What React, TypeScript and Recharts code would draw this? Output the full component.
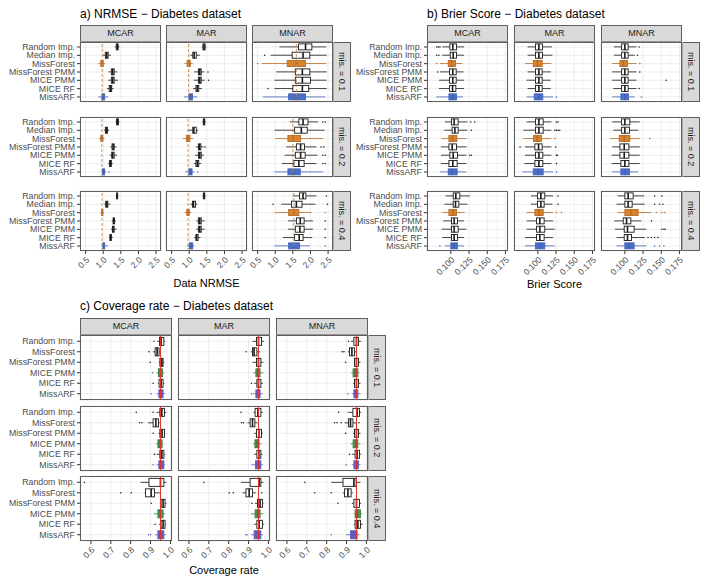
import React from 'react';
import { ComposedChart, Bar, XAxis, YAxis, CartesianGrid, ReferenceLine } from 'recharts';

type Box = [number, number, number, number, number, number[]?];

const methodsA = ['Random Imp.', 'Median Imp.', 'MissForest', 'MissForest PMM', 'MICE PMM', 'MICE RF', 'MissARF'];
const methodsC = ['Random Imp.', 'MissForest', 'MissForest PMM', 'MICE PMM', 'MICE RF', 'MissARF'];
const mechanisms = ['MCAR', 'MAR', 'MNAR'];
const missLabels = ['mis. = 0.1', 'mis. = 0.2', 'mis. = 0.4'];

const nrmseTicks = [0.5, 1, 1.5, 2, 2.5];
const nrmseMinor = [0.75, 1.25, 1.75, 2.25];
const brierTicks = [0.1, 0.125, 0.15, 0.175];
const brierMinor = [0.0875, 0.1125, 0.1375, 0.1625];
const coverageTicks = [0.6, 0.7, 0.8, 0.9, 1.0];
const coverageMinor = [0.55, 0.65, 0.75, 0.85, 0.95];
const nominalCoverage = 0.95;

// [lower whisker, q1, median, q3, upper whisker, outliers]
const nrmseMcar1: Box[] = [
  [1.33, 1.37, 1.4, 1.42, 1.46], [0.98, 1.06, 1.1, 1.14, 1.22], [0.86, 0.93, 0.97, 1.0, 1.05],
  [1.15, 1.23, 1.27, 1.31, 1.4], [1.14, 1.23, 1.27, 1.31, 1.42], [1.11, 1.17, 1.21, 1.24, 1.29],
  [0.86, 0.96, 1.0, 1.04, 1.14],
];
const nrmseMar1: Box[] = [
  [1.36, 1.39, 1.42, 1.45, 1.48], [1.03, 1.1, 1.14, 1.2, 1.3], [0.86, 0.94, 0.98, 1.03, 1.1],
  [1.14, 1.26, 1.3, 1.34, 1.43, [1.53]], [1.13, 1.26, 1.3, 1.34, 1.44, [1.55]], [1.11, 1.19, 1.23, 1.27, 1.36],
  [0.85, 0.99, 1.04, 1.09, 1.23],
];
const nrmseMnar1: Box[] = [
  [1.12, 1.66, 1.86, 2.04, 2.45], [0.87, 1.48, 1.79, 1.98, 2.46, [0.7]], [0.62, 1.34, 1.6, 1.86, 2.45, [0.5]],
  [1.03, 1.57, 1.77, 1.98, 2.46], [0.98, 1.57, 1.77, 2.0, 2.46], [0.98, 1.5, 1.77, 1.95, 2.46, [0.79]],
  [0.65, 1.38, 1.6, 1.86, 2.42],
];
const nrmseMcar2: Box[] = [
  [1.35, 1.38, 1.4, 1.43, 1.46], [1.02, 1.06, 1.09, 1.12, 1.17], [0.88, 0.93, 0.96, 0.99, 1.03],
  [1.2, 1.25, 1.28, 1.31, 1.38], [1.18, 1.24, 1.27, 1.31, 1.39], [1.14, 1.18, 1.2, 1.23, 1.27],
  [0.95, 0.98, 1.01, 1.04, 1.08, [1.16]],
];
const nrmseMar2: Box[] = [
  [1.37, 1.4, 1.42, 1.44, 1.47], [0.96, 1.1, 1.13, 1.2, 1.25], [0.82, 0.92, 0.965, 1.02, 1.11],
  [1.19, 1.26, 1.29, 1.33, 1.4, [1.45]], [1.16, 1.26, 1.3, 1.34, 1.42], [1.13, 1.19, 1.23, 1.27, 1.34],
  [0.88, 0.99, 1.03, 1.08, 1.15, [1.24]],
];
const nrmseMnar2: Box[] = [
  [1.41, 1.67, 1.79, 1.93, 2.21, [2.35, 2.42]], [0.98, 1.55, 1.74, 1.91, 2.4], [1.0, 1.36, 1.5, 1.72, 2.36],
  [1.31, 1.6, 1.72, 1.83, 2.17, [2.3, 2.38]], [1.27, 1.57, 1.72, 1.85, 2.2, [2.35, 2.42]],
  [1.19, 1.53, 1.67, 1.82, 2.17, [2.35, 2.42]], [0.98, 1.36, 1.5, 1.71, 2.36],
];
const nrmseMcar4: Box[] = [
  [1.36, 1.38, 1.39, 1.41, 1.43], [1.03, 1.07, 1.1, 1.13, 1.2], [0.92, 0.95, 0.965, 0.99, 1.02],
  [1.24, 1.28, 1.3, 1.32, 1.36], [1.22, 1.26, 1.28, 1.31, 1.38], [1.16, 1.19, 1.21, 1.23, 1.27],
  [0.96, 0.99, 1.01, 1.04, 1.14],
];
const nrmseMar4: Box[] = [
  [1.38, 1.4, 1.42, 1.44, 1.46], [1.03, 1.09, 1.12, 1.18, 1.23], [0.87, 0.93, 0.965, 1.0, 1.06],
  [1.2, 1.26, 1.3, 1.34, 1.44], [1.2, 1.26, 1.3, 1.34, 1.44], [1.14, 1.19, 1.21, 1.25, 1.32],
  [0.93, 1.0, 1.06, 1.1, 1.14],
];
const nrmseMnar4: Box[] = [
  [1.5, 1.69, 1.79, 1.87, 2.17, [2.45]], [1.17, 1.46, 1.6, 1.76, 2.14, [0.94, 2.48]],
  [0.98, 1.38, 1.53, 1.67, 2.03, [2.42]], [1.36, 1.6, 1.71, 1.82, 2.07, [2.42]],
  [1.36, 1.57, 1.7, 1.82, 2.07, [2.42]], [1.22, 1.55, 1.68, 1.79, 2.05, [2.42]],
  [0.98, 1.38, 1.54, 1.69, 1.98, [2.42]],
];

const brierMcar1: Box[] = [
  [0.0882, 0.0986, 0.1027, 0.1077, 0.1182, [0.0805, 0.0827, 0.085]],
  [0.0882, 0.0991, 0.1032, 0.1077, 0.1182, [0.0805, 0.0836]],
  [0.085, 0.0964, 0.1009, 0.1064, 0.1159, [0.0805]],
  [0.085, 0.0982, 0.1027, 0.1073, 0.1173, [0.0818]],
  [0.0836, 0.0982, 0.1027, 0.1073, 0.1182],
  [0.0836, 0.0982, 0.1023, 0.1068, 0.1182],
  [0.0827, 0.0973, 0.1023, 0.1077, 0.1168, [0.0814]],
];
const brierMar1: Box[] = [
  [0.0859, 0.0968, 0.1014, 0.1064, 0.1195],
  [0.0859, 0.0968, 0.1014, 0.1064, 0.12],
  [0.0823, 0.0936, 0.0995, 0.1059, 0.1186],
  [0.0859, 0.0968, 0.1014, 0.1059, 0.1177],
  [0.0845, 0.0968, 0.1014, 0.1059, 0.1177],
  [0.0859, 0.0968, 0.1014, 0.1059, 0.1177],
  [0.0845, 0.095, 0.1014, 0.1068, 0.1209, [0.1255]],
];
const brierMnar1: Box[] = [
  [0.085, 0.0955, 0.1, 0.1045, 0.1159, [0.1195]],
  [0.085, 0.0955, 0.1, 0.1045, 0.1136, [0.1173]],
  [0.0827, 0.0932, 0.0982, 0.1036, 0.1159, [0.1205]],
  [0.0827, 0.0955, 0.1, 0.1045, 0.1159, [0.1205]],
  [0.0827, 0.0955, 0.1, 0.1045, 0.1159, [0.1568]],
  [0.0841, 0.0955, 0.1, 0.1045, 0.1159, [0.1195]],
  [0.0827, 0.0945, 0.1, 0.105, 0.1136, [0.1227]],
];
const brierMcar2: Box[] = [
  [0.0918, 0.1009, 0.1045, 0.11, 0.1227, [0.1273, 0.1327]],
  [0.0909, 0.1018, 0.1055, 0.11, 0.1227, [0.1282]],
  [0.0873, 0.0973, 0.1023, 0.1082, 0.1214],
  [0.0864, 0.0973, 0.1018, 0.1077, 0.1214],
  [0.0864, 0.0986, 0.1032, 0.1091, 0.1214, [0.1259, 0.1282]],
  [0.0864, 0.0973, 0.1027, 0.1086, 0.1214],
  [0.085, 0.0964, 0.1018, 0.1086, 0.1214],
];
const brierMar2: Box[] = [
  [0.0845, 0.0968, 0.1014, 0.1073, 0.1186, [0.1255, 0.1277]],
  [0.08, 0.0968, 0.1014, 0.1073, 0.1186, [0.1232, 0.1255, 0.1277, 0.13]],
  [0.08, 0.0941, 0.0991, 0.105, 0.1186, [0.1232]],
  [0.0823, 0.0959, 0.1009, 0.1059, 0.1186, [0.0755, 0.1245]],
  [0.0823, 0.0968, 0.1014, 0.1068, 0.1186, [0.1255, 0.1268]],
  [0.0814, 0.0959, 0.1014, 0.1068, 0.1186, [0.1255]],
  [0.0786, 0.0936, 0.1005, 0.1073, 0.1209, [0.1255]],
];
const brierMnar2: Box[] = [
  [0.0827, 0.0955, 0.1, 0.1068, 0.1205],
  [0.0841, 0.0955, 0.1, 0.1064, 0.1182],
  [0.0795, 0.0923, 0.0991, 0.1068, 0.1205, [0.1341]],
  [0.0827, 0.0932, 0.0991, 0.1055, 0.1205],
  [0.0818, 0.0932, 0.0991, 0.1055, 0.1205],
  [0.0818, 0.0945, 0.1, 0.1055, 0.1205],
  [0.0827, 0.0945, 0.1, 0.1064, 0.1182],
];
const brierMcar4: Box[] = [
  [0.0927, 0.1032, 0.1068, 0.1123, 0.1259],
  [0.0909, 0.1032, 0.1064, 0.1109, 0.1227],
  [0.0882, 0.0973, 0.1032, 0.1077, 0.1191],
  [0.0895, 0.1009, 0.1045, 0.1091, 0.1182],
  [0.0873, 0.1009, 0.1045, 0.11, 0.1214],
  [0.0882, 0.1009, 0.1045, 0.1091, 0.1182],
  [0.0918, 0.1, 0.1045, 0.1091, 0.1182, [0.085]],
];
const brierMar4: Box[] = [
  [0.0905, 0.0995, 0.1041, 0.1095, 0.1209, [0.1277]],
  [0.0905, 0.0995, 0.1041, 0.1086, 0.12, [0.1277]],
  [0.0845, 0.0959, 0.1014, 0.1073, 0.1209, [0.1255, 0.1323]],
  [0.0845, 0.0982, 0.1027, 0.1086, 0.1209],
  [0.0845, 0.0982, 0.1027, 0.1095, 0.1232],
  [0.0823, 0.0982, 0.1027, 0.1086, 0.1209],
  [0.0823, 0.0968, 0.1027, 0.1095, 0.1232],
];
const brierMnar4: Box[] = [
  [0.09, 0.1, 0.1045, 0.1114, 0.1264, [0.1409, 0.1509]],
  [0.0886, 0.1, 0.1045, 0.11, 0.1273, [0.1409, 0.1477, 0.1523]],
  [0.09, 0.1, 0.1082, 0.1182, 0.1364, [0.1432, 0.1509, 0.1545]],
  [0.0855, 0.0977, 0.1023, 0.1082, 0.1227, [0.1364]],
  [0.0864, 0.0991, 0.1036, 0.1127, 0.1295, [0.1509, 0.1536, 0.1555]],
  [0.0886, 0.0991, 0.1036, 0.1091, 0.1273, [0.1318, 0.1364, 0.1409, 0.1455]],
  [0.0886, 0.1, 0.1055, 0.1127, 0.1295, [0.1409, 0.1477, 0.1536]],
];

const covMcar1: Box[] = [
  [0.933, 0.945, 0.953, 0.967, 0.973, [0.917]], [0.912, 0.923, 0.933, 0.943, 0.953, [0.892]],
  [0.942, 0.947, 0.957, 0.963, 0.97, [0.898]], [0.93, 0.94, 0.95, 0.96, 0.97, [0.91]],
  [0.937, 0.943, 0.953, 0.963, 0.97, [0.913]], [0.93, 0.942, 0.952, 0.963, 0.973, [0.903]],
];
const covMar1: Box[] = [
  [0.92, 0.94, 0.95, 0.965, 0.978], [0.912, 0.92, 0.928, 0.942, 0.958, [0.888]],
  [0.92, 0.94, 0.95, 0.962, 0.975], [0.923, 0.937, 0.945, 0.958, 0.975],
  [0.928, 0.942, 0.95, 0.962, 0.972, [0.915]], [0.923, 0.937, 0.947, 0.958, 0.972, [0.915]],
];
const covMnar1: Box[] = [
  [0.923, 0.937, 0.95, 0.96, 0.973, [0.91]], [0.907, 0.915, 0.927, 0.94, 0.953, [0.878, 0.887]],
  [0.937, 0.94, 0.95, 0.96, 0.97, [0.895]], [0.923, 0.933, 0.943, 0.957, 0.965],
  [0.933, 0.94, 0.95, 0.96, 0.97], [0.927, 0.937, 0.947, 0.957, 0.97, [0.907]],
];
const covMcar2: Box[] = [
  [0.93, 0.947, 0.957, 0.97, 0.98, [0.913, 0.828]], [0.887, 0.913, 0.927, 0.94, 0.947, [0.845, 0.857]],
  [0.94, 0.947, 0.958, 0.97, 0.973, [0.913]], [0.928, 0.937, 0.947, 0.958, 0.963],
  [0.93, 0.947, 0.957, 0.967, 0.973, [0.92]], [0.93, 0.942, 0.953, 0.967, 0.973, [0.913]],
];
const covMar2: Box[] = [
  [0.925, 0.933, 0.947, 0.962, 0.972, [0.862]], [0.895, 0.908, 0.92, 0.932, 0.945, [0.865, 0.875]],
  [0.928, 0.94, 0.952, 0.965, 0.972], [0.923, 0.932, 0.943, 0.953, 0.965],
  [0.928, 0.942, 0.952, 0.962, 0.97], [0.915, 0.935, 0.948, 0.962, 0.972],
];
const covMnar2: Box[] = [
  [0.907, 0.932, 0.953, 0.965, 0.973, [0.86]], [0.89, 0.91, 0.92, 0.932, 0.948, [0.84, 0.852, 0.873, 0.962]],
  [0.932, 0.94, 0.95, 0.96, 0.97, [0.895]], [0.92, 0.933, 0.945, 0.957, 0.97],
  [0.927, 0.943, 0.953, 0.965, 0.973, [0.915]], [0.927, 0.937, 0.948, 0.96, 0.97, [0.898]],
];
const covMcar4: Box[] = [
  [0.85, 0.892, 0.95, 0.967, 0.98, [0.567]], [0.87, 0.875, 0.903, 0.92, 0.947, [0.75, 0.803]],
  [0.947, 0.953, 0.963, 0.973, 0.98, [0.903]], [0.917, 0.937, 0.948, 0.963, 0.973],
  [0.942, 0.953, 0.963, 0.973, 0.977, [0.923]], [0.923, 0.937, 0.953, 0.967, 0.977, [0.89, 0.9]],
];
const covMar4: Box[] = [
  [0.862, 0.908, 0.953, 0.962, 0.975, [0.675]], [0.87, 0.887, 0.903, 0.92, 0.937, [0.803, 0.823, 0.967]],
  [0.932, 0.945, 0.958, 0.97, 0.975, [0.917]], [0.912, 0.933, 0.945, 0.958, 0.975],
  [0.928, 0.942, 0.953, 0.97, 0.978], [0.912, 0.928, 0.942, 0.962, 0.972, [0.887, 0.892]],
];
const covMnar4: Box[] = [
  [0.823, 0.882, 0.937, 0.948, 0.97, [0.69]], [0.882, 0.89, 0.907, 0.923, 0.932, [0.74, 0.823]],
  [0.927, 0.937, 0.95, 0.965, 0.973, [0.857]], [0.937, 0.943, 0.957, 0.97, 0.977],
  [0.937, 0.943, 0.957, 0.97, 0.982], [0.898, 0.92, 0.937, 0.953, 0.965, [0.823]],
];

const FONT = '"Liberation Sans", Arial, Helvetica, sans-serif';
const WHITE = { fill: '#ffffff', stroke: '#1a1a1a' };
const ORANGE = { fill: '#d8842f', stroke: '#b86a25' };
const BLUE = { fill: '#4a6fc8', stroke: '#4062b8' };
const GREEN = { fill: '#4c9a55', stroke: '#3a7d42' };
const PURPLE = { fill: '#6c58b8', stroke: '#5560c0' };

const colorsAB = (m: string) => (m === 'MissForest' ? ORANGE : m === 'MissARF' ? BLUE : WHITE);
const colorsC = (m: string) => (m === 'MICE PMM' ? GREEN : m === 'MissARF' ? PURPLE : WHITE);

function toRows(methods: string[], boxes: Box[]) {
  return methods.map((m, i) => {
    const b = boxes[i];
    return { method: m, lo: b[0], q1: b[1], med: b[2], q3: b[3], hi: b[4], out: b[5] || [] };
  });
}

function BoxShape(props: any) {
  const { x, y, width, height, payload, colorOf } = props;
  const { lo, q1, med, q3, hi, out } = payload;
  const k = width / (hi - lo);
  const X = (v: number) => x + (v - lo) * k;
  const cy = y + height / 2;
  const c = colorOf(payload.method);
  return (
    <g>
      <line x1={X(lo)} x2={X(q1)} y1={cy} y2={cy} stroke={c.stroke} strokeWidth={0.8} />
      <line x1={X(q3)} x2={X(hi)} y1={cy} y2={cy} stroke={c.stroke} strokeWidth={0.8} />
      <rect x={X(q1)} y={y} width={Math.max(X(q3) - X(q1), 0.5)} height={height} fill={c.fill} stroke={c.stroke} strokeWidth={0.9} />
      <line x1={X(med)} x2={X(med)} y1={y} y2={y + height} stroke={c.stroke} strokeWidth={1.6} />
      {out.map((v: number, i: number) => (
        <circle key={i} cx={X(v)} cy={cy} r={0.75} fill={c.stroke} />
      ))}
    </g>
  );
}

function RotTick(props: any) {
  const { x, y, payload, fmt } = props;
  return (
    <g transform={`translate(${x},${y})`}>
      <text x={0} y={0} dy="0.7em" textAnchor="end" transform="rotate(-45)" fontSize={8.6} fill="#4d4d4d" fontFamily={FONT}>
        {fmt(payload.value)}
      </text>
    </g>
  );
}

function CatTick(props: any) {
  const { x, y, payload } = props;
  return (
    <text x={x} y={y} dy="0.35em" textAnchor="end" fontSize={8.8} fill="#4d4d4d" fontFamily={FONT}>
      {payload.value}
    </text>
  );
}

interface FacetProps {
  left: number; top: number; w: number; h: number;
  rows: any[]; domain: [number, number]; ticks: number[]; minor: number[];
  fmt: (v: number) => string; colorOf: (m: string) => any;
  showY: boolean; showX: boolean; yw: number;
  refX?: number; refKind?: 'dash' | 'solid';
}

function Facet(p: FacetProps) {
  const n = p.rows.length;
  const pad = (p.h * 0.1) / (n + 0.2);
  const xh = 34;
  const yw = p.showY ? p.yw : 0;
  const width = p.w + yw;
  const height = p.h + (p.showX ? xh : 0);
  return (
    <div style={{ position: 'absolute', left: p.left - yw, top: p.top, width, height, overflow: 'visible' }}>
      <ComposedChart layout="vertical" width={width} height={height} data={p.rows} style={{ overflow: 'visible' }}
        margin={{ top: 0, right: 0, bottom: 0, left: 0 }} barCategoryGap="12.5%">
        <XAxis type="number" domain={p.domain} ticks={p.ticks} allowDataOverflow interval={0}
          hide={!p.showX} height={xh} axisLine={false} tickLine={{ stroke: '#333' }} tickSize={3}
          tick={(t: any) => <RotTick {...t} fmt={p.fmt} />} />
        <XAxis xAxisId="minor" type="number" domain={p.domain} ticks={p.minor} allowDataOverflow hide />
        <YAxis type="category" dataKey="method" width={p.yw} hide={!p.showY} axisLine={false}
          tickLine={{ stroke: '#333' }} tickSize={3} tickMargin={2} interval={0}
          padding={{ top: pad, bottom: pad }} tick={(t: any) => <CatTick {...t} />} />
        <CartesianGrid xAxisId="minor" horizontal={false} stroke="#f2f2f2" strokeWidth={0.5} />
        <CartesianGrid stroke="#e8e8e8" strokeWidth={0.8} />
        {p.refKind === 'dash' && p.refX !== undefined && (
          <ReferenceLine x={p.refX} stroke="#c98a4a" strokeDasharray="3 2" strokeWidth={0.9} />
        )}
        <Bar dataKey={(d: any) => [d.lo, d.hi]} isAnimationActive={false}
          shape={(s: any) => <BoxShape {...s} colorOf={p.colorOf} />} />
        {p.refKind === 'solid' && p.refX !== undefined && (
          <ReferenceLine x={p.refX} stroke="#e0342c" strokeWidth={1} />
        )}
      </ComposedChart>
      <div style={{ position: 'absolute', left: yw, top: 0, width: p.w, height: p.h, border: '1px solid #5e5e5e', boxSizing: 'border-box', pointerEvents: 'none' }} />
    </div>
  );
}

interface PanelProps {
  lefts: number[]; tops: number[]; w: number; h: number; stripTop: number;
  methods: string[]; grid: Box[][][]; domain: [number, number]; ticks: number[]; minor: number[];
  fmt: (v: number) => string; colorOf: (m: string) => any; yw: number;
  refOf?: (b: Box[]) => number; refKind?: 'dash' | 'solid';
  title: string; titleTop: number; xTitle: string; xTitleTop: number;
}

function Panel(p: PanelProps) {
  const stripH = 17;
  const right = p.lefts[2] + p.w;
  const centre = (p.lefts[0] + right) / 2;
  return (
    <>
      <div style={{ position: 'absolute', left: p.lefts[0], top: p.titleTop, fontSize: 12, lineHeight: '16px', color: '#000', whiteSpace: 'nowrap' }}>{p.title}</div>
      {mechanisms.map((m, j) => (
        <div key={m} style={{ position: 'absolute', left: p.lefts[j], top: p.stripTop, width: p.w, height: stripH, boxSizing: 'border-box', background: '#d9d9d9', border: '1px solid #5e5e5e', fontSize: 9, lineHeight: `${stripH - 2}px`, textAlign: 'center', color: '#1a1a1a' }}>{m}</div>
      ))}
      {missLabels.map((r, i) => (
        <div key={r} style={{ position: 'absolute', left: right, top: p.tops[i], width: 18, height: p.h, boxSizing: 'border-box', background: '#d9d9d9', border: '1px solid #5e5e5e', display: 'flex', alignItems: 'center', justifyContent: 'center' }}>
          <span style={{ writingMode: 'vertical-rl', fontSize: 9, color: '#1a1a1a', whiteSpace: 'nowrap' }}>{r}</span>
        </div>
      ))}
      {p.grid.map((row, i) =>
        row.map((boxes, j) => (
          <Facet key={`${i}-${j}`} left={p.lefts[j]} top={p.tops[i]} w={p.w} h={p.h}
            rows={toRows(p.methods, boxes)} domain={p.domain} ticks={p.ticks} minor={p.minor}
            fmt={p.fmt} colorOf={p.colorOf} showY={j === 0} showX={i === 2} yw={p.yw}
            refX={p.refOf ? p.refOf(boxes) : undefined} refKind={p.refKind} />
        ))
      )}
      <div style={{ position: 'absolute', left: centre - 100, width: 200, top: p.xTitleTop, textAlign: 'center', fontSize: 11, lineHeight: '14px', color: '#000' }}>{p.xTitle}</div>
    </>
  );
}

export default function App() {
  return (
    <div style={{ position: 'absolute', left: 0, top: 0, width: 709, height: 586, background: '#fff', fontFamily: FONT, overflow: 'hidden' }}>
      <style>{'.recharts-wrapper, .recharts-surface { overflow: visible !important; }'}</style>
      <Panel lefts={[80, 166, 252]} tops={[42, 116.5, 191]} w={81} h={60} stripTop={25}
        methods={methodsA}
        grid={[[nrmseMcar1, nrmseMar1, nrmseMnar1], [nrmseMcar2, nrmseMar2, nrmseMnar2], [nrmseMcar4, nrmseMar4, nrmseMnar4]]}
        domain={[0.34, 2.64]} ticks={nrmseTicks} minor={nrmseMinor} fmt={(v) => v.toFixed(1)}
        colorOf={colorsAB} yw={80} refOf={(b) => b[2][2]} refKind="dash"
        title="a) NRMSE − Diabetes dataset" titleTop={6} xTitle="Data NRMSE" xTitleTop={276} />
      <Panel lefts={[427, 514, 601]} tops={[42, 116.5, 191]} w={81} h={60} stripTop={25}
        methods={methodsA}
        grid={[[brierMcar1, brierMar1, brierMnar1], [brierMcar2, brierMar2, brierMnar2], [brierMcar4, brierMar4, brierMnar4]]}
        domain={[0.0672, 0.1785]} ticks={brierTicks} minor={brierMinor} fmt={(v) => v.toFixed(3)}
        colorOf={colorsAB} yw={70}
        title="b) Brier Score − Diabetes dataset" titleTop={6} xTitle="Brier Score" xTitleTop={277} />
      <Panel lefts={[80, 178, 276]} tops={[335, 405.5, 476]} w={92} h={65} stripTop={318}
        methods={methodsC}
        grid={[[covMcar1, covMar1, covMnar1], [covMcar2, covMar2, covMnar2], [covMcar4, covMar4, covMnar4]]}
        domain={[0.545, 1.008]} ticks={coverageTicks} minor={coverageMinor} fmt={(v) => v.toFixed(1)}
        colorOf={colorsC} yw={80} refOf={() => nominalCoverage} refKind="solid"
        title="c) Coverage rate − Diabetes dataset" titleTop={298} xTitle="Coverage rate" xTitleTop={563} />
    </div>
  );
}
